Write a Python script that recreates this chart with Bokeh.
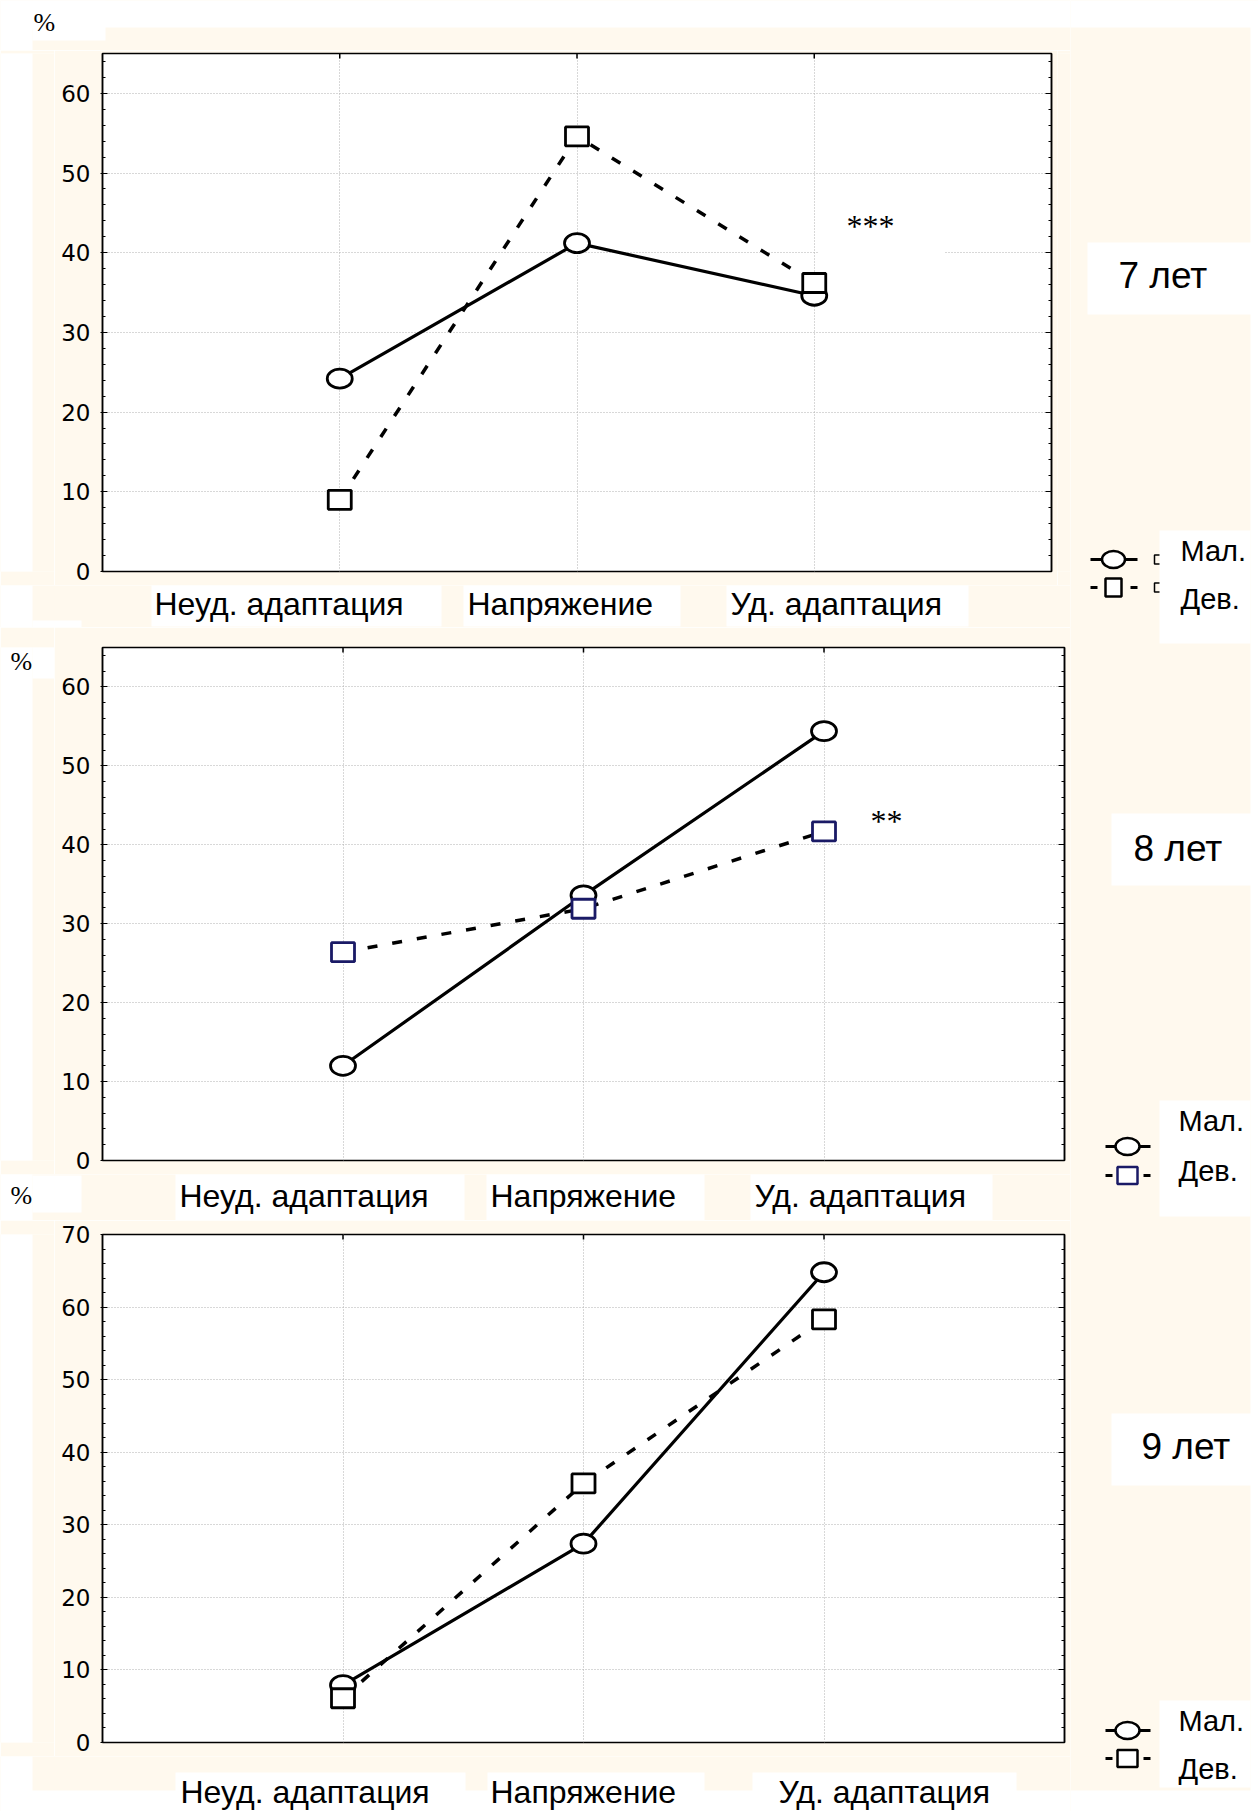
import math

from bokeh.core.properties import value
from bokeh.embed import file_html
from bokeh.layouts import column, row
from bokeh.models import (BoxAnnotation, Grid, Label, LinearAxis, Range1d,
                          SingleIntervalTicker, FixedTicker)
from bokeh.plotting import figure
from bokeh.resources import INLINE

# ---------------------------------------------------------------- data
categories = ["Неуд. адаптация", "Напряжение", "Уд. адаптация"]
age_groups = ["7 лет", "8 лет", "9 лет"]
series_names = ["Мал.", "Дев."]

boys_7 = [24.2, 41.2, 34.6]
girls_7 = [9.0, 54.6, 36.2]
boys_8 = [12.0, 33.6, 54.4]
girls_8 = [26.4, 31.9, 41.7]
boys_9 = [7.9, 27.4, 64.8]
girls_9 = [6.1, 35.7, 58.3]

y_limits = [65, 65, 70]
significance = ["***", "**", ""]
y_unit = "%"

# ---------------------------------------------------------------- styling
PAGE_W, PAGE_H = 1258, 1811
LEFT_W = 1070                 # width of the column holding the three plots
CREAM = "#FFF9EE"
NAVY = "#1a1a66"
GRID_COLOR = "#b0b0b0"
SANS = "Liberation Sans"
SERIF = "Liberation Serif"

# plot frames on the page: (left, top, right, bottom) and border sizes around them
frames = [(102, 53, 1051, 571), (102, 647, 1064, 1160), (102, 1234, 1064, 1742)]
borders = [dict(l=48, t=3, r=6, b=14), dict(l=48, t=20, r=6, b=14), dict(l=48, t=14, r=6, b=14)]
series = [(boys_7, girls_7), (boys_8, girls_8), (boys_9, girls_9)]
square_colors = ["black", NAVY, "black"]

x_pos = [i + 1 for i in range(len(categories))]

canvases = []   # free drawing canvases in page pixel coordinates


def canvas(x0, y0, x1, y1):
    f = figure(width=x1 - x0, height=y1 - y0,
               x_range=Range1d(x0, x1), y_range=Range1d(y1, y0),
               x_axis_type=None, y_axis_type=None, toolbar_location=None,
               output_backend="svg", min_border=0,
               background_fill_color=CREAM, border_fill_color=CREAM,
               outline_line_color=None)
    canvases.append((f, (x0, y0, x1, y1)))
    return f


def panel_plot(k):
    fl, ft, fr, fb = frames[k]
    b = borders[k]
    p = figure(width=(fr - fl) + b["l"] + b["r"], height=(fb - ft) + b["t"] + b["b"],
               x_range=Range1d(0, len(categories) + 1), y_range=Range1d(0, y_limits[k]),
               x_axis_type=None, y_axis_type=None,
               toolbar_location=None, output_backend="svg",
               min_border_left=b["l"], min_border_right=b["r"],
               min_border_top=b["t"], min_border_bottom=b["b"],
               border_fill_color=CREAM, background_fill_color="white",
               outline_line_color="black", outline_line_width=1.5)

    y_ticker = SingleIntervalTicker(interval=10, num_minor_ticks=5)
    x_ticker = FixedTicker(ticks=x_pos)
    left = LinearAxis(ticker=y_ticker, axis_line_color="black", axis_line_width=1.5,
                      major_tick_in=5, major_tick_out=2, minor_tick_in=3, minor_tick_out=0,
                      major_tick_line_color="black", minor_tick_line_color="black",
                      major_label_standoff=10, major_label_text_font="DejaVu Sans",
                      major_label_text_font_size="23px", major_label_text_color="black")
    right = LinearAxis(ticker=y_ticker, axis_line_color="black", axis_line_width=1.5,
                       major_tick_in=6, major_tick_out=0, minor_tick_in=3, minor_tick_out=0,
                       major_tick_line_color="black", minor_tick_line_color="black",
                       major_label_standoff=0,
                       major_label_overrides={v: "" for v in range(0, y_limits[k] + 1, 10)})
    p.add_layout(left, "left")
    p.add_layout(right, "right")
    p.add_layout(Grid(dimension=0, ticker=x_ticker, grid_line_color=GRID_COLOR,
                      grid_line_dash="1 2", grid_line_width=1))
    p.add_layout(Grid(dimension=1, ticker=y_ticker, grid_line_color=GRID_COLOR,
                      grid_line_dash="1 2", grid_line_width=1))
    # short category ticks hanging from the top edge
    p.ray(x=x_pos, y=[y_limits[k]] * len(x_pos), length=5, length_units="screen",
          angle=-math.pi / 2, line_color="black", line_width=1.5)

    boys, girls = series[k]
    p.line(x_pos, boys, line_color="black", line_width=3.2)
    p.ellipse(x_pos, boys, width=25, height=19, width_units="screen", height_units="screen",
              fill_color="white", line_color="black", line_width=2.8)
    p.line(x_pos, girls, line_color="black", line_width=3.5, line_dash="10 15")
    p.rect(x_pos, girls, width=23, height=19, width_units="screen", height_units="screen",
           fill_color="white", line_color=square_colors[k], line_width=2.8)
    return p


plots = [panel_plot(k) for k in range(3)]

# ---------------------------------------------------------------- page layout
r_bottoms = [frames[k][3] + borders[k]["b"] for k in range(3)]
r_tops = [frames[k][1] - borders[k]["t"] for k in range(3)]
x_main = frames[0][0] - borders[0]["l"]

strip0 = canvas(0, 0, LEFT_W, r_tops[0])
left1 = canvas(0, r_tops[0], x_main, r_bottoms[0])
fill1 = canvas(frames[0][2] + borders[0]["r"], r_tops[0], LEFT_W, r_bottoms[0])
strip1 = canvas(0, r_bottoms[0], LEFT_W, r_tops[1])
left2 = canvas(0, r_tops[1], x_main, r_bottoms[1])
strip2 = canvas(0, r_bottoms[1], LEFT_W, r_tops[2])
left3 = canvas(0, r_tops[2], x_main, r_bottoms[2])
strip3 = canvas(0, r_bottoms[2], LEFT_W, PAGE_H)
side = canvas(LEFT_W, 0, PAGE_W, PAGE_H)

left_col = column(strip0,
                  row(left1, plots[0], fill1, spacing=0),
                  strip1,
                  row(left2, plots[1], spacing=0),
                  strip2,
                  row(left3, plots[2], spacing=0),
                  strip3, spacing=0)
page = row(left_col, side, spacing=0)


# ---------------------------------------------------------------- page drawing helpers
def _hit(r, b):
    return not (b[2] <= r[0] or b[0] >= r[2] or b[3] <= r[1] or b[1] >= r[3])


def put_box(x0, y0, x1, y1, color="white"):
    for f, r in canvases:
        if _hit(r, (x0, y0, x1, y1)):
            f.quad(left=[x0], right=[x1], top=[y0], bottom=[y1],
                   fill_color=color, line_color=None)


def put_text(text, x, yc, size, font=SANS):
    """Place text so that its capital letters are centred on yc."""
    bbox = (x, yc - 0.55 * size, x + 0.6 * size * len(text), yc + 0.45 * size)
    for f, r in canvases:
        if _hit(r, bbox):
            f.text(x=[x], y=[yc], text=[text], text_font=value(font),
                   text_font_size=value(f"{size}px"), text_color="black",
                   text_align="left", text_baseline="alphabetic")


def put_marker(kind, cx, cy, w, h, color="black", fill="white", lw=2.5):
    for f, r in canvases:
        if _hit(r, (cx - w, cy - h, cx + w, cy + h)):
            glyph = f.ellipse if kind == "ellipse" else f.rect
            glyph(x=[cx], y=[cy], width=w, height=h, width_units="screen",
                  height_units="screen", fill_color=fill, line_color=color, line_width=lw)


# white page margins around the cream area
put_box(0, 0, PAGE_W, 27)
put_box(0, 0, 32, PAGE_H)
put_box(1250, 0, PAGE_W, PAGE_H)
put_box(0, 1790, PAGE_W, PAGE_H)

# partly hidden marker stubs beside the first legend
for yc in (559, 587):
    put_marker("rect", 1158, yc, 8, 9, fill=None, lw=1.5)

# white boxes behind the texts
label_boxes = [
    (32, 0, 105, 40), (151, 577, 441, 626), (463, 577, 680, 626), (726, 577, 968, 626),
    (1087, 242, 1251, 314), (1159, 530, 1250, 643),
    (32, 620, 81, 660), (175, 1172, 464, 1220), (486, 1172, 704, 1220),
    (750, 1172, 992, 1220), (1111, 813, 1251, 885), (1159, 1100, 1250, 1216),
    (32, 1175, 81, 1212), (175, 1772, 465, 1811), (487, 1772, 704, 1811),
    (752, 1772, 1016, 1811), (1111, 1413, 1251, 1485), (1159, 1700, 1250, 1787),
]
for bx in label_boxes:
    put_box(*bx)

# unit labels
for (ux, uy) in [(33, 22), (10, 642), (10, 1195)]:
    put_text(y_unit, ux, uy, 26, font=SERIF)

# category labels under each plot
cat_lefts = [[154, 467, 730], [179, 490, 754], [180, 490, 778]]
cat_centres = [603, 1195, 1791]
for k in range(3):
    for name, lx in zip(categories, cat_lefts[k]):
        put_text(name, lx, cat_centres[k], 32)

# age titles
for title, (tx, ty) in zip(age_groups, [(1118, 275), (1133, 848), (1141, 1446)]):
    put_text(title, tx, ty, 37)

# legends
legend_specs = [
    dict(cx=1113, line=(1090, 1137), y_boys=559, y_girls=587, ell=(23, 17), sq=(16, 18),
         text_x=1180, text_y=(550, 598), color="black"),
    dict(cx=1127, line=(1105, 1150), y_boys=1146, y_girls=1175, ell=(24, 17), sq=(20, 17),
         text_x=1178, text_y=(1120, 1170), color=NAVY),
    dict(cx=1127, line=(1105, 1150), y_boys=1730, y_girls=1758, ell=(24, 17), sq=(20, 17),
         text_x=1178, text_y=(1720, 1768), color="black"),
]
for spec in legend_specs:
    lx0, lx1 = spec["line"]
    yb, yg = spec["y_boys"], spec["y_girls"]
    put_box(lx0, yb - 1.5, lx1, yb + 1.5, color="black")
    put_marker("ellipse", spec["cx"], yb, *spec["ell"])
    put_box(lx0, yg - 1.5, lx0 + 7, yg + 1.5, color="black")
    put_box(lx1 - 7, yg - 1.5, lx1, yg + 1.5, color="black")
    put_marker("rect", spec["cx"], yg, *spec["sq"], color=spec["color"])
    put_text(series_names[0], spec["text_x"], spec["text_y"][0], 29)
    put_text(series_names[1], spec["text_x"], spec["text_y"][1], 29)

# significance marks inside the first two plots
sig_pos = [(846, 225), (870, 820), None]
for k, mark in enumerate(significance):
    if not mark:
        continue
    fl, ft, fr, fb = frames[k]
    mx, my = sig_pos[k]
    if k == 0:
        plots[k].add_layout(BoxAnnotation(
            left=818 - fl, right=944 - fl, top=fb - 185, bottom=fb - 262,
            left_units="screen", right_units="screen", top_units="screen",
            bottom_units="screen", fill_color="white", fill_alpha=1.0,
            line_color=None, level="underlay"))
    plots[k].add_layout(Label(x=mx - fl, y=fb - my, x_units="screen", y_units="screen",
                              text=mark, text_font=SERIF, text_font_size="32px",
                              text_color="black", text_baseline="alphabetic"))

with open("out.html", "w") as f:
    f.write(file_html(page, INLINE))
